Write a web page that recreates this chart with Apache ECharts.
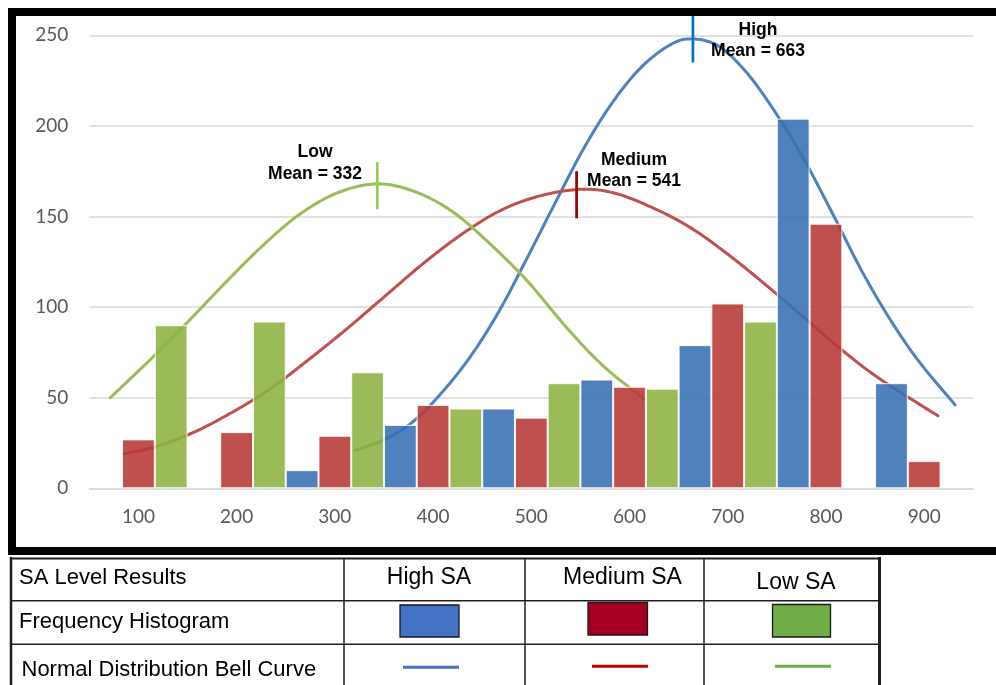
<!DOCTYPE html>
<html>
<head>
<meta charset="utf-8">
<script src="https://cdn.jsdelivr.net/npm/echarts@6/dist/echarts.min.js"></script>
<style>
  html, body { margin: 0; padding: 0; background: #fff; }
  #chart { width: 996px; height: 685px; }
</style>
</head>
<body>
<div id="chart"></div>
<script>
// Score bins and histogram counts per SA level
const categories = ['100', '200', '300', '400', '500', '600', '700', '800', '900'];
const highFreq   = [0, 0, 10, 35, 44, 60, 79, 204, 58];
const mediumFreq = [27, 31, 29, 46, 39, 56, 102, 146, 15];
const lowFreq    = [90, 92, 64, 44, 58, 55, 92, 0, 0];

// Fitted bell curves (score, frequency)
const highCurveX = [309, 340, 370, 400, 430, 460, 490, 520, 550, 580, 610, 640, 662, 690, 720, 750, 780, 810, 840, 870, 900, 938];
const highCurveY = [21, 27, 37, 53, 73, 98, 128, 159, 189, 214, 233, 245, 248, 244, 229, 207, 181, 151, 120, 93, 70, 46];

const mediumCurveX = [66, 100, 140, 180, 220, 260, 300, 340, 380, 420, 460, 500, 544, 580, 620, 660, 700, 740, 780, 820, 860, 920];
const mediumCurveY = [19, 23, 31, 42, 55, 71, 88, 106, 124, 140, 153, 161, 165, 163, 155, 144, 129, 112, 94, 76, 60, 40];

const lowCurveX = [52, 90, 130, 170, 210, 250, 290, 331, 370, 410, 450, 490, 530, 570, 613];
const lowCurveY = [50, 69, 90, 112, 133, 151, 163, 168, 164, 153, 135, 114, 89, 67, 49];

// Group means
const levelNames = ['High', 'Medium', 'Low'];
const levelMeans = [663, 541, 332];

// Legend table text
const tableHeader = ['SA Level Results', 'High SA', 'Medium SA', 'Low SA'];
const tableRowNames = ['Frequency Histogram', 'Normal Distribution Bell Curve'];

const barColors   = ['#3770B4', '#B73835', '#8DB242'];
const curveColors = ['#4F81BD', '#C0504D', '#9BBB59'];
const meanColors  = ['#0070C0', '#990000', '#92D050'];
const swatchColors = ['#4472C4', '#A50021', '#70AD47'];
const keyLineColors = ['#4472C4', '#C00000', '#70AD47'];

const zip = (xs, ys) => xs.map((x, i) => [x, ys[i]]);
const freqs = [highFreq, mediumFreq, lowFreq];
const curves = [zip(highCurveX, highCurveY), zip(mediumCurveX, mediumCurveY), zip(lowCurveX, lowCurveY)];
// vertical extent of each mean tick (frequency units)
const meanSpans = [[235, 262], [149, 175], [154, 180]];

// Catmull-Rom spline through pixel points, returned as a dense polyline
function splinePath(pts, steps) {
  const out = [];
  for (let i = 0; i < pts.length - 1; i++) {
    const p0 = pts[Math.max(i - 1, 0)], p1 = pts[i], p2 = pts[i + 1], p3 = pts[Math.min(i + 2, pts.length - 1)];
    for (let s = 0; s < steps; s++) {
      const t = s / steps, t2 = t * t, t3 = t2 * t;
      const f = (a, b, c, d) => 0.5 * ((2 * b) + (-a + c) * t + (2 * a - 5 * b + 4 * c - d) * t2 + (-a + 3 * b - 3 * c + d) * t3);
      out.push([f(p0[0], p1[0], p2[0], p3[0]), f(p0[1], p1[1], p2[1], p3[1])]);
    }
  }
  out.push(pts[pts.length - 1]);
  return out;
}

const series = [];
freqs.forEach((f, i) => {
  series.push({
    name: tableHeader[i + 1],
    type: 'bar',
    xAxisIndex: 0,
    yAxisIndex: 0,
    data: f.map(v => (v === 0 ? '-' : v)),
    barGap: '0%',
    barCategoryGap: '0%',
    z: 2,
    itemStyle: { color: barColors[i], borderColor: '#ffffff', borderWidth: 1, opacity: 0.88 }
  });
});
curves.forEach((c, i) => {
  series.push({
    type: 'custom',
    xAxisIndex: 1,
    yAxisIndex: 0,
    data: c,
    z: 1,
    silent: true,
    renderItem: function (params, api) {
      if (params.dataIndex !== 0) return null;
      const pts = c.map(p => api.coord(p));
      return {
        type: 'polyline',
        shape: { points: splinePath(pts, 16) },
        style: { stroke: curveColors[i], lineWidth: 3, fill: null, lineJoin: 'round', lineCap: 'round' }
      };
    }
  });
});
levelMeans.forEach((m, i) => {
  series.push({
    type: 'line',
    xAxisIndex: 1,
    yAxisIndex: 0,
    data: [[m, meanSpans[i][0]], [m, meanSpans[i][1]]],
    showSymbol: false,
    clip: false,
    z: 3,
    lineStyle: { color: meanColors[i], width: 2.7 }
  });
});

// Annotation text placement (pixels)
const notePos = [
  { x: 758, y1: 30, y2: 51 },
  { x: 634, y1: 160, y2: 181 },
  { x: 315, y1: 152, y2: 174 }
];
const noteFont = { fontSize: 17.5, fontWeight: 'bold', fontFamily: '"Liberation Sans", Arial, sans-serif', fill: '#000', align: 'center', verticalAlign: 'middle' };

const graphic = [];
levelNames.forEach((name, i) => {
  const p = notePos[i];
  graphic.push({ type: 'text', x: p.x, y: p.y1, z: 50, style: Object.assign({ text: name }, noteFont) });
  graphic.push({ type: 'text', x: p.x, y: p.y2, z: 50, style: Object.assign({ text: 'Mean = ' + levelMeans[i] }, noteFont) });
});

// Outer chart frame
graphic.push({
  type: 'rect', z: 100,
  shape: { x: 12, y: 12, width: 1000, height: 539 },
  style: { fill: 'none', stroke: '#000', lineWidth: 8 }
});

// Legend table grid
const tLine = '#1e1e1e';
const hLines = [[10, 558.5, 881, 558.5, 2], [11, 600.7, 879, 600.7, 1.5], [11, 644.3, 879, 644.3, 1.5]];
const vLines = [[11, 557, 11, 685, 2.5], [344, 558, 344, 685, 1.5], [525, 558, 525, 685, 1.5], [704, 558, 704, 685, 1.5], [879.5, 557, 879.5, 685, 3]];
hLines.concat(vLines).forEach(l => {
  graphic.push({ type: 'line', z: 60, shape: { x1: l[0], y1: l[1], x2: l[2], y2: l[3] }, style: { stroke: tLine, lineWidth: l[4] } });
});

const tableFont = { fontFamily: '"Liberation Sans", Arial, sans-serif', fill: '#000', verticalAlign: 'middle' };
graphic.push({ type: 'text', x: 19, y: 577.5, z: 60, style: Object.assign({ text: tableHeader[0], fontSize: 22, align: 'left' }, tableFont) });
const headerPos = [[429, 577.5], [622.5, 577.5], [796, 582.5]];
headerPos.forEach((p, i) => {
  graphic.push({ type: 'text', x: p[0], y: p[1], z: 60, style: Object.assign({ text: tableHeader[i + 1], fontSize: 23, align: 'center' }, tableFont) });
});
graphic.push({ type: 'text', x: 19, y: 621.5, z: 60, style: Object.assign({ text: tableRowNames[0], fontSize: 22, align: 'left' }, tableFont) });
graphic.push({ type: 'text', x: 21.5, y: 669.5, z: 60, style: Object.assign({ text: tableRowNames[1], fontSize: 22, align: 'left' }, tableFont) });

const swatchBoxes = [[400, 605, 59, 32], [588, 602.5, 59.5, 32.5], [772.5, 604.5, 58, 32.5]];
swatchBoxes.forEach((b, i) => {
  graphic.push({ type: 'rect', z: 60, shape: { x: b[0], y: b[1], width: b[2], height: b[3] }, style: { fill: swatchColors[i], stroke: '#1a1a1a', lineWidth: 1.3 } });
});
const keyLines = [[403, 459, 667.3], [592, 648, 666.3], [775, 831, 666.3]];
keyLines.forEach((k, i) => {
  graphic.push({ type: 'line', z: 60, shape: { x1: k[0], y1: k[2], x2: k[1], y2: k[2] }, style: { stroke: keyLineColors[i], lineWidth: 3 } });
});

const chart = echarts.init(document.getElementById('chart'), null, { renderer: 'canvas' });
chart.setOption({
  animation: false,
  backgroundColor: '#ffffff',
  grid: { left: 89.3, right: 22.7, top: 35.3, bottom: 196.7, containLabel: false },
  xAxis: [
    {
      type: 'category',
      data: categories,
      axisLine: { show: true, lineStyle: { color: '#d9d9d9', width: 1.5 } },
      axisTick: { show: false },
      axisLabel: { color: '#595959', fontFamily: 'Lato', fontSize: 19, margin: 19 }
    },
    {
      type: 'value',
      min: 30,
      max: 957,
      show: false
    }
  ],
  yAxis: {
    type: 'value',
    min: 0,
    max: 250,
    interval: 50,
    axisLine: { show: false },
    axisTick: { show: false },
    axisLabel: { color: '#595959', fontFamily: 'Lato', fontSize: 19, margin: 21 },
    splitLine: { lineStyle: { color: '#d9d9d9', width: 1.5 } }
  },
  series: series,
  graphic: graphic
});
</script>
</body>
</html>
